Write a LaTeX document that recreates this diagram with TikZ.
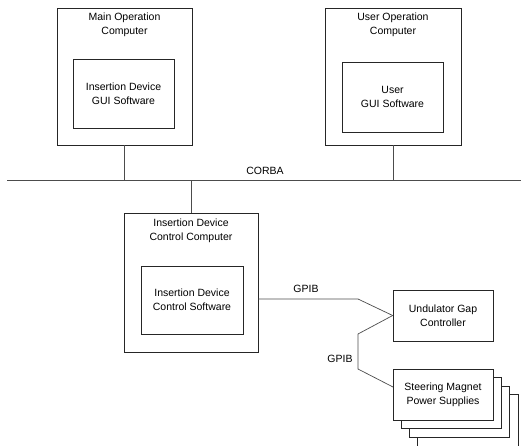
\documentclass[tikz,border=0pt]{standalone}
\usepackage{fontspec}
\setmainfont{Liberation Sans}
\begin{document}
\begin{tikzpicture}[x=1pt,y=-1pt,
  box/.style={draw=black!85, line width=0.7pt, fill=white, inner sep=0pt},
  txt/.style={align=center, inner sep=0pt, font=\fontsize{10.5}{14}\selectfont},
  link/.style={draw=black!70, line width=0.7pt}]
\useasboundingbox (0,0) rectangle (521,445);

% ---- top row: operator computers ----
\node[box, minimum width=135pt, minimum height=137pt] (moc) at (124.5,76.5) {};
\node[txt] (mocT) at (124.5,25) {Main Operation\\Computer};
\node[box, minimum width=101pt, minimum height=69pt] (gui) at (123.5,93.5) {};
\node[txt] (guiT) at (gui.center) {Insertion Device\\GUI Software};

\node[box, minimum width=136pt, minimum height=137pt] (uoc) at (393,76.5) {};
\node[txt] (uocT) at (393,25) {User Operation\\Computer};
\node[box, minimum width=101pt, minimum height=70pt] (ugui) at (392.5,97) {};
\node[txt] (uguiT) at (ugui.center) {User\\GUI Software};

% ---- CORBA bus ----
\coordinate (busL) at (7,180);
\coordinate (busR) at (521,180);
\draw[link] (busL) -- (busR);
\node[txt] (corba) at (265,171) {CORBA};
\draw[link] (moc.south) -- (moc.south |- busL);
\draw[link] (uoc.south) -- (uoc.south |- busL);

% ---- control computer ----
\node[box, minimum width=134pt, minimum height=139pt] (icc) at (191,282.5) {};
\node[txt] (iccT) at (191,230.5) {Insertion Device\\Control Computer};
\node[box, minimum width=102pt, minimum height=68pt] (ics) at (192,300) {};
\node[txt] (icsT) at (ics.center) {Insertion Device\\Control Software};
\draw[link] (icc.north) -- (icc.north |- busL);

% ---- GPIB devices ----
\node[box, minimum width=100pt, minimum height=51pt] (gap) at (443,315.5) {};
\node[txt] (gapT) at (gap.center) {Undulator Gap\\Controller};

% stack of power supplies, back to front
\node[box, minimum width=101pt, minimum height=54pt] (ps4) at (467.5,421) {};
\node[box, minimum width=100pt, minimum height=51pt] (ps3) at (459,411.5) {};
\node[box, minimum width=100pt, minimum height=51pt] (ps2) at (451,402.5) {};
\node[box, minimum width=100pt, minimum height=51pt] (ps) at (443,394.5) {};
\node[txt] (psT) at (ps.center) {Steering Magnet\\Power Supplies};

\coordinate (gpA) at (icc.east |- 0,299);
\coordinate (gpB) at (358,299);
\coordinate (gapIn) at (gap.west);
\coordinate (gpC) at (358,334);
\coordinate (gpD) at (358,369);
\coordinate (psIn) at (393,387);
\draw[link] (gpA) -- (gpB) -- (gapIn);
\draw[link] (gapIn) -- (gpC) -- (gpD) -- (psIn);
\node[txt] (gpib1) at (306,289) {GPIB};
\node[txt] (gpib2) at (340,359) {GPIB};
\end{tikzpicture}
\end{document}
